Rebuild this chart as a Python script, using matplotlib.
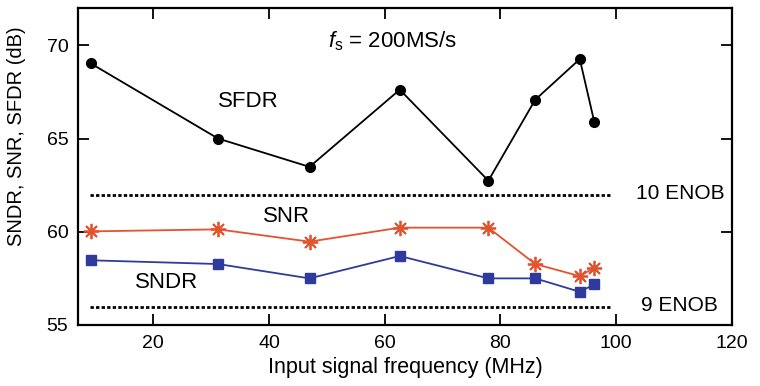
import matplotlib
matplotlib.use('Agg')
import matplotlib.pyplot as plt

plt.rcParams['font.family'] = ['Liberation Sans', 'DejaVu Sans']
plt.rcParams['mathtext.fontset'] = 'custom'
plt.rcParams['mathtext.rm'] = 'Liberation Sans'
plt.rcParams['mathtext.it'] = 'Liberation Sans:italic'

# input frequency (MHz)
freq = [9.2, 31.2, 47.0, 62.6, 77.9, 86.0, 93.7, 96.2]
sfdr = [69.03, 65.0, 63.48, 67.62, 62.74, 67.08, 69.26, 65.9]
snr = [60.02, 60.13, 59.47, 60.22, 60.22, 58.27, 57.62, 58.07]
sndr = [58.47, 58.27, 57.5, 58.7, 57.5, 57.5, 56.78, 57.18]

enob_levels = [61.96, 55.94]
enob_labels = ['10 ENOB', '9 ENOB']
enob_span = [9, 99]

xticks = [20, 40, 60, 80, 100, 120]
yticks = [55, 60, 65, 70]

fig = plt.figure(figsize=(7.6, 3.86), dpi=100)
ax = fig.add_axes([78 / 760, 61 / 386, 654 / 760, 317 / 386])

ax.plot(freq, sfdr, color='black', lw=1.3, marker='o', ms=7)
ax.plot(freq, snr, color='#E4532D', lw=1.3, marker=(8, 2, 0), ms=11, mew=1.3)
ax.plot(freq, sndr, color='#2F3B9C', lw=1.3, marker='s', ms=7)

for lvl, lab in zip(enob_levels, enob_labels):
    ax.plot(enob_span, [lvl, lvl], color='black', lw=2, ls=(0, (1.2, 0.8)))
    ax.text(111, lvl + 0.1, lab, fontsize=15, ha='center', va='center')

ax.text(61.4, 70.2, r'$f_\mathrm{s}$ = 200MS/s', fontsize=16, ha='center', va='center')
ax.text(36.5, 67.0, 'SFDR', fontsize=16, ha='center', va='center')
ax.text(43, 60.8, 'SNR', fontsize=16, ha='center', va='center')
ax.text(22.3, 57.3, 'SNDR', fontsize=16, ha='center', va='center')

ax.set_xlim(7, 120)
ax.set_ylim(55, 72)
ax.set_xticks(xticks)
ax.set_yticks(yticks)
ax.tick_params(direction='in', length=8, width=1.3, top=True, right=True, labelsize=14, pad=7)
for s in ax.spines.values():
    s.set_linewidth(1.6)

ax.set_xlabel('Input signal frequency (MHz)', fontsize=15.5, labelpad=4)
ax.set_ylabel('SNDR, SNR, SFDR (dB)', fontsize=14.5)
ax.yaxis.set_label_coords(-0.079, 0.596)

fig.savefig('out.png', dpi=100)
